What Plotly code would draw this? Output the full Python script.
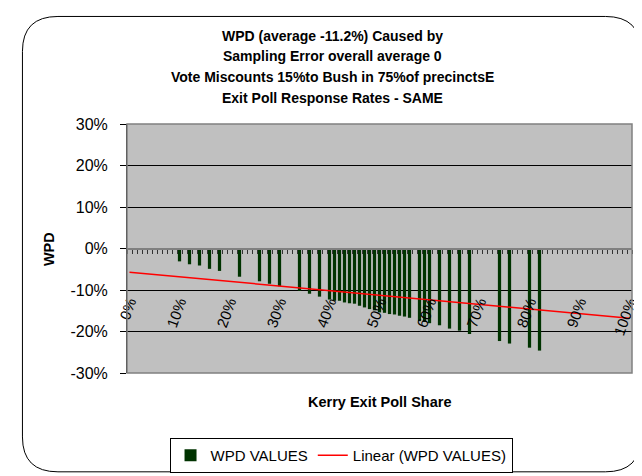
import plotly.graph_objects as go

# Kerry exit poll share (percent) of each precinct bar, and its WPD (percent)
kerry_share = [10, 12, 14, 16, 18, 22, 26, 28, 30, 34, 36, 38,
               40, 41, 42, 43, 44, 45, 46, 47, 48, 49, 50, 51, 52, 53, 54, 55, 56,
               58, 59, 60, 62, 64, 66, 68, 74, 76, 80, 82]
wpd_values = [-3.1, -3.8, -4.1, -4.9, -5.4, -6.8, -7.9, -8.5, -9.1, -10.2, -10.9, -11.6,
              -12.3, -12.6, -12.6, -13.0, -13.2, -13.3, -13.8, -14.2, -14.6, -14.9, -15.4, -15.5,
              -15.8, -15.9, -16.2, -16.4, -16.7,
              -17.5, -17.7, -18.0, -18.5, -19.3, -19.8, -20.6, -22.3, -22.9, -23.9, -24.6]

# Excel linear trendline end points
trend_share = [0, 100]
trend_wpd = [-5.7, -16.8]

x_tick_vals = [0, 10, 20, 30, 40, 50, 60, 70, 80, 90, 100]
x_tick_text = ["0%", "10%", "20%", "30%", "40%", "50%", "60%", "70%", "80%", "90%", "100%"]
y_tick_vals = [-30, -20, -10, 0, 10, 20, 30]
y_tick_text = ["-30%", "-20%", "-10%", "0%", "10%", "20%", "30%"]

title_lines = [
    "WPD (average -11.2%) Caused by",
    "Sampling Error overall average 0",
    "Vote Miscounts 15%to Bush in 75%of precinctsE",
    "Exit Poll Response Rates - SAME",
]

FONT = "Arial, Liberation Sans, sans-serif"
W, H = 642, 476
L, R, T, B = 119, 631, 116, 373


def px(x):
    return (x - L) / (R - L)


def py(y):
    return (B - y) / (B - T)


fig = go.Figure()
fig.add_trace(go.Bar(
    x=kerry_share, y=wpd_values, width=0.65, name="WPD VALUES",
    marker=dict(color="#003300", line=dict(width=0)),
))
fig.add_trace(go.Scatter(
    x=trend_share, y=trend_wpd, mode="lines", name="Linear (WPD VALUES)",
    line=dict(color="#ff0000", width=1.5),
))

annotations = []
for i, line in enumerate(title_lines):
    annotations.append(dict(
        text=f"<b>{line}</b>", x=px(327), y=py(25 + i * 21.3), xref="paper", yref="paper",
        showarrow=False, xanchor="center", yanchor="middle",
        font=dict(family=FONT, size=14, color="black"),
    ))
annotations.append(dict(
    text="<b>Kerry Exit Poll Share</b>", x=px(375), y=py(403), xref="paper", yref="paper",
    showarrow=False, xanchor="center", yanchor="middle",
    font=dict(family=FONT, size=14.5, color="black"),
))
annotations.append(dict(
    text="<b>WPD</b>", x=px(40), y=py(245), xref="paper", yref="paper", textangle=-90,
    showarrow=False, xanchor="center", yanchor="middle",
    font=dict(family=FONT, size=14.5, color="black"),
))

# rounded chart border
x0, x1, top, bot = px(13), px(640), py(5), py(475)
rx, ry = 36 / (R - L), 36 / (B - T)
border = (f"M {x0 + rx},{top} L {x1 - rx},{top} Q {x1},{top} {x1},{top - ry} "
          f"L {x1},{bot + ry} Q {x1},{bot} {x1 - rx},{bot} "
          f"L {x0 + rx},{bot} Q {x0},{bot} {x0},{bot + ry} "
          f"L {x0},{top - ry} Q {x0},{top} {x0 + rx},{top} Z")

fig.update_layout(
    width=W, height=H,
    margin=dict(l=L, r=W - R, t=T, b=H - B),
    paper_bgcolor="white",
    plot_bgcolor="#c0c0c0",
    font=dict(family=FONT, color="black"),
    showlegend=True,
    legend=dict(
        orientation="h", x=px(336), xanchor="center", y=py(440), yanchor="top",
        bgcolor="white", bordercolor="black", borderwidth=1,
        font=dict(family=FONT, size=15, color="black"),
        itemwidth=30,
    ),
    annotations=annotations,
    shapes=[
        dict(type="rect", xref="paper", yref="paper", x0=0, x1=1, y0=0, y1=1,
             line=dict(color="#808080", width=1.5), layer="above"),
        dict(type="path", xref="paper", yref="paper", path=border,
             line=dict(color="black", width=1)),
    ],
    xaxis=dict(
        range=[-0.5, 100.5], anchor="free", position=0.5,
        tickvals=x_tick_vals, ticktext=x_tick_text, tickangle=-70,
        ticks="", showgrid=False, zeroline=False,
        showline=True, linecolor="#808080", linewidth=2,
        tickfont=dict(family=FONT, size=15, color="black"),
        ticklabelstandoff=38,
        minor=dict(tickmode="linear", tick0=-0.5, dtick=1, ticks="outside",
                   ticklen=4, tickcolor="#333333", showgrid=False),
    ),
    yaxis=dict(
        range=[-30, 30], tickvals=y_tick_vals, ticktext=y_tick_text,
        ticks="outside", ticklen=6, tickcolor="black",
        showline=True, linecolor="black", linewidth=1,
        showgrid=True, gridcolor="black", gridwidth=1, zeroline=False,
        tickfont=dict(family=FONT, size=16, color="black"),
        ticklabelstandoff=9,
    ),
)

fig.write_html("out.html")
